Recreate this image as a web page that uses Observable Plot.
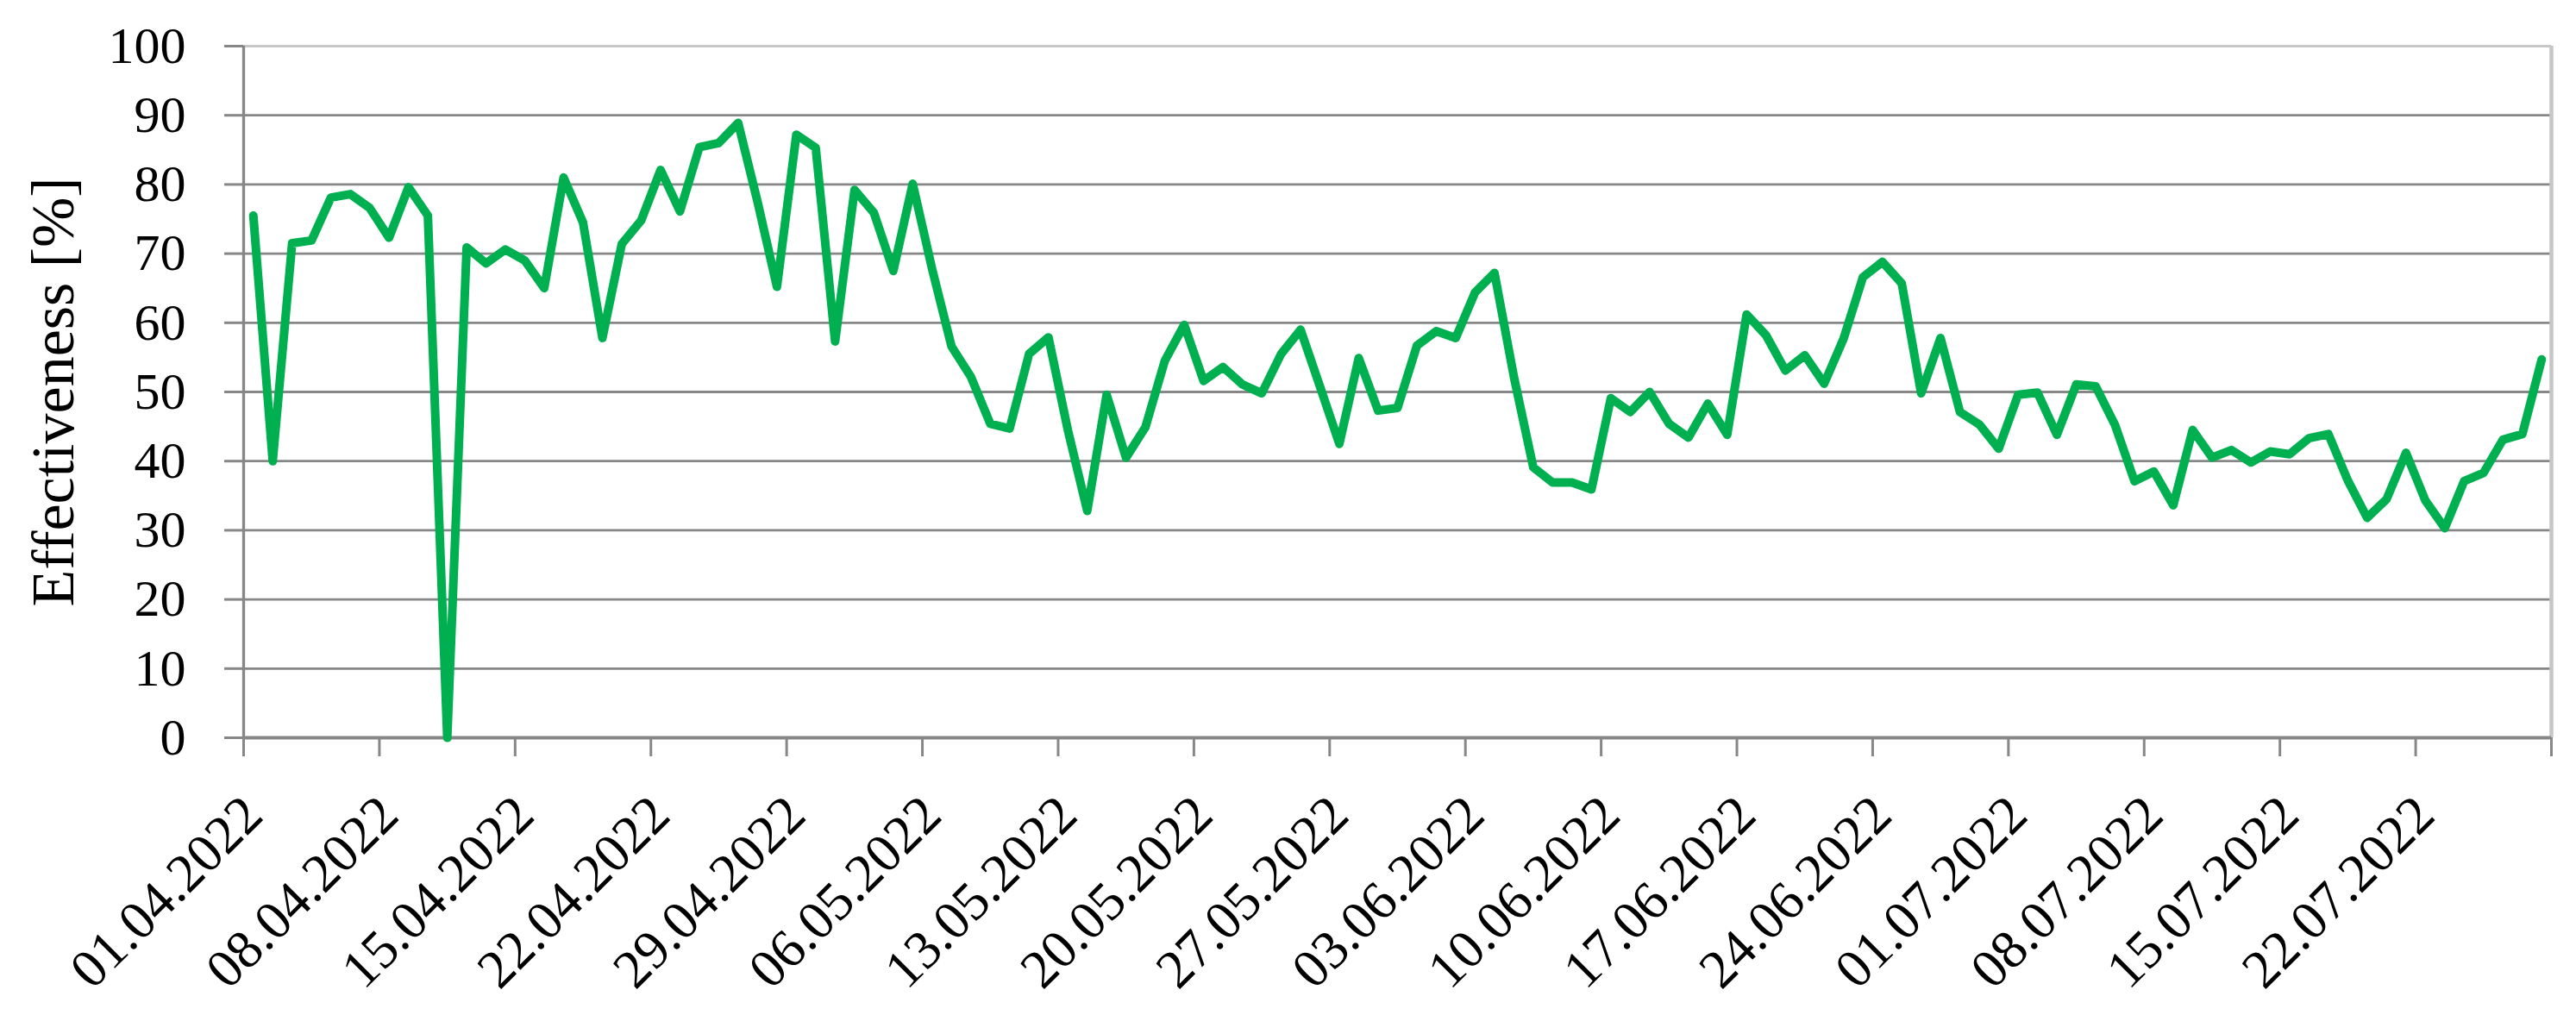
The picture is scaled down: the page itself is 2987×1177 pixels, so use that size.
<!DOCTYPE html>
<html>
<head>
<meta charset="utf-8">
<script src="https://cdn.jsdelivr.net/npm/d3@7"></script>
<script src="https://cdn.jsdelivr.net/npm/@observablehq/plot@0.6"></script>
<style>
  html, body { margin: 0; padding: 0; background: #ffffff; }
  #chart svg { display: block; }
</style>
</head>
<body>
<div id="chart"></div>
<script>
// ---- data ----
const startDate = "2022-04-01";
const endDate = "2022-07-29"; // right edge of the category axis
const effectiveness = [
  75.5, 40.0, 71.5, 71.9, 78.1, 78.6, 76.6, 72.3, 79.6, 75.5,
  0.0, 70.9, 68.6, 70.6, 69.0, 65.0, 81.0, 74.5, 57.8, 71.4,
  74.8, 82.1, 76.1, 85.4, 86.0, 88.9, 77.5, 65.2, 87.2, 85.3,
  57.3, 79.2, 75.9, 67.5, 80.1, 67.8, 56.6, 52.2, 45.4, 44.7,
  55.5, 57.9, 44.5, 32.8, 49.6, 40.5, 44.9, 54.5, 59.7, 51.6,
  53.6, 51.1, 49.8, 55.5, 59.0, 50.8, 42.5, 54.9, 47.3, 47.7,
  56.7, 58.8, 57.8, 64.4, 67.2, 52.2, 39.1, 36.9, 36.9, 35.9,
  49.1, 47.1, 50.0, 45.4, 43.4, 48.3, 43.8, 61.2, 58.2, 53.1,
  55.3, 51.2, 57.7, 66.6, 68.8, 65.7, 49.8, 57.8, 47.1, 45.3,
  41.8, 49.6, 49.9, 43.8, 51.1, 50.8, 45.2, 37.1, 38.5, 33.6,
  44.5, 40.5, 41.6, 39.8, 41.4, 41.0, 43.3, 43.9, 37.2, 31.8,
  34.5, 41.2, 34.3, 30.3, 37.1, 38.3, 43.1, 43.9, 54.7
];
const xTickLabels = [
  "01.04.2022", "08.04.2022", "15.04.2022", "22.04.2022", "29.04.2022",
  "06.05.2022", "13.05.2022", "20.05.2022", "27.05.2022", "03.06.2022",
  "10.06.2022", "17.06.2022", "24.06.2022", "01.07.2022", "08.07.2022",
  "15.07.2022", "22.07.2022"
];
const yTicks = [0, 10, 20, 30, 40, 50, 60, 70, 80, 90, 100];
const yLabel = "Effectiveness [%]";

// ---- derived tables ----
const day0 = new Date(startDate + "T00:00:00Z");
const dayEnd = new Date(endDate + "T00:00:00Z");
// each daily value sits in the middle of its day (category) slot
const data = effectiveness.map((v, i) => ({
  date: d3.utcHour.offset(d3.utcDay.offset(day0, i), 12),
  value: v
}));
const tickDates = d3.utcDay.range(day0, d3.utcDay.offset(dayEnd, 1), 7);
const labelData = xTickLabels.map((label, i) => ({date: tickDates[i], label}));

const gridColor = "#878787";
const borderColor = "#c6c6c6";
const font = "'Liberation Serif', 'Times New Roman', serif";

const chart = Plot.plot({
  width: 2987,
  height: 1177,
  marginLeft: 282,
  marginRight: 29,
  marginTop: 53,
  marginBottom: 322,
  style: {background: "#ffffff", fontFamily: font, color: "#000000", overflow: "visible"},
  x: {type: "utc", domain: [day0, dayEnd], label: null},
  y: {domain: [0, 100], label: null},
  marks: [
    Plot.gridY(yTicks.filter(t => t > 0 && t < 100), {stroke: gridColor, strokeOpacity: 1, strokeWidth: 2.8}),
    Plot.ruleY([100], {stroke: borderColor, strokeWidth: 3}),
    Plot.ruleX([dayEnd], {stroke: borderColor, strokeWidth: 4.5}),
    Plot.ruleX([day0], {stroke: gridColor, strokeWidth: 3.3}),
    Plot.ruleY([0], {stroke: gridColor, strokeWidth: 4}),
    Plot.axisY({
      ticks: yTicks, tickSize: 22, tickPadding: 45, fontSize: 60,
      stroke: gridColor, strokeWidth: 3, color: "#000000", label: null
    }),
    Plot.axisX({
      ticks: tickDates, tickSize: 22, tickFormat: () => "",
      stroke: gridColor, strokeWidth: 3, color: "#000000", label: null
    }),
    Plot.text(labelData, {
      x: "date", text: "label", frameAnchor: "bottom",
      rotate: -45, textAnchor: "end", lineAnchor: "bottom",
      dx: 25, dy: 93, fontSize: 63, fill: "#000000"
    }),
    Plot.text([yLabel], {
      text: d => d, frameAnchor: "left", dx: -220,
      rotate: -90, textAnchor: "middle", lineAnchor: "middle",
      fontSize: 70, fill: "#000000"
    }),
    Plot.line(data, {
      x: "date", y: "value", stroke: "#00b050", strokeWidth: 10,
      strokeLinejoin: "round", strokeLinecap: "round"
    })
  ]
});

document.getElementById("chart").appendChild(chart);
</script>
</body>
</html>
